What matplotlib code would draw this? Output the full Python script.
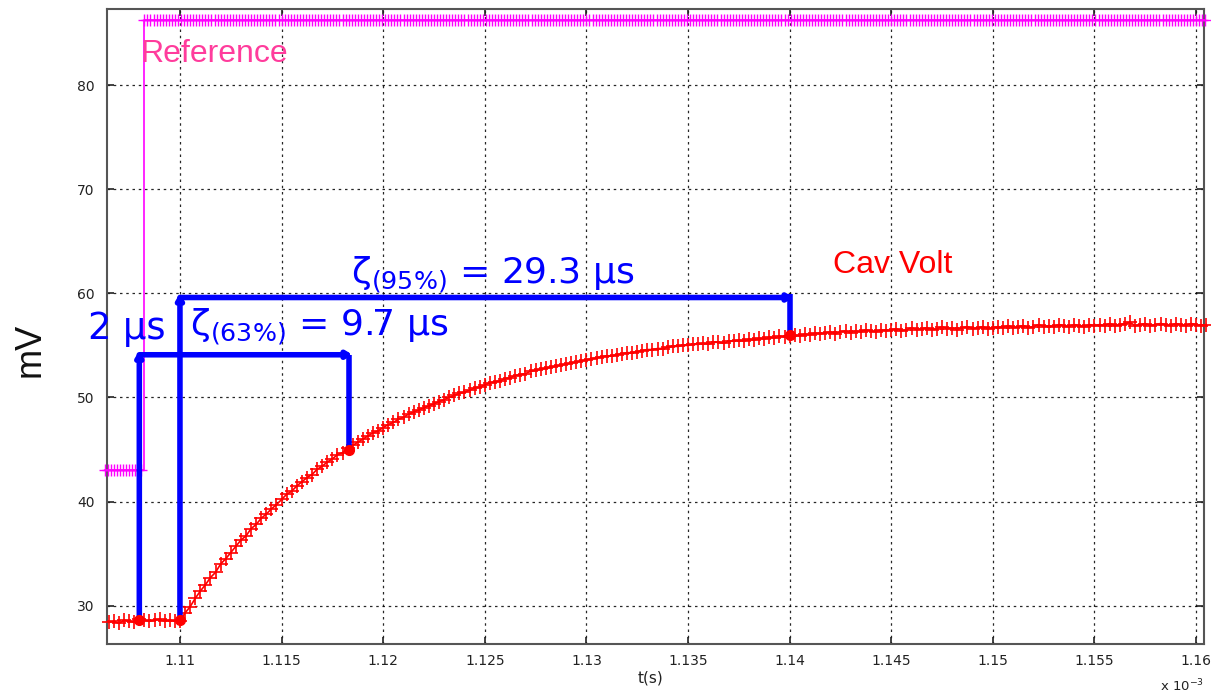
import numpy as np
import matplotlib
matplotlib.use("Agg")
import matplotlib.pyplot as plt

# ---------------- data ----------------
# Cavity voltage (mV), sampled every 0.25 us starting at t = 1.1065e-3 s
cav_t0 = 1.1065      # x axis in units of 1e-3 s
cav_dt = 0.00025
cav_volt = [
    28.4, 28.5, 28.3, 28.6, 28.5, 28.4, 28.7, 28.6, 28.5, 28.6, 28.7, 28.5, 28.6, 28.5,
    28.5, 29.3, 29.9, 30.7, 31.4, 32.0, 32.7, 33.2, 34.0, 34.5,
    35.1, 35.7, 36.3, 36.7, 37.4, 37.8, 38.4, 38.8, 39.3, 39.7,
    40.2, 40.7, 41.0, 41.5, 41.9, 42.3, 42.6, 43.1, 43.4, 43.8,
    44.1, 44.5, 44.7, 45.1, 45.4, 45.7, 46.0, 46.3, 46.6, 46.8,
    47.1, 47.4, 47.6, 47.9, 48.1, 48.4, 48.6, 48.8, 49.0, 49.2,
    49.4, 49.6, 49.8, 50.0, 50.2, 50.4, 50.5, 50.7, 50.9, 51.0,
    51.2, 51.4, 51.5, 51.6, 51.8, 51.9, 52.1, 52.2, 52.3, 52.5,
    52.6, 52.7, 52.8, 52.9, 53.0, 53.1, 53.2, 53.3, 53.4, 53.5,
    53.6, 53.7, 53.8, 53.9, 54.0, 54.0, 54.1, 54.2, 54.3, 54.3,
    54.4, 54.5, 54.6, 54.6, 54.7, 54.7, 54.8, 54.9, 54.9, 55.0,
    55.0,
    55.1, 55.1, 55.2, 55.1, 55.3, 55.3, 55.2, 55.4, 55.4, 55.5,
    55.4, 55.6, 55.5, 55.7, 55.6, 55.8, 55.7, 55.9, 55.8, 55.9,
    56.0, 55.9, 56.1, 56.0, 56.2, 56.1, 56.2, 56.3, 56.1, 56.3,
    56.4, 56.2, 56.4, 56.3, 56.5, 56.4, 56.3, 56.5, 56.4, 56.5,
    56.6, 56.4, 56.5, 56.7, 56.5, 56.6, 56.7, 56.5, 56.6, 56.8,
    56.6, 56.7, 56.5, 56.7, 56.8, 56.6, 56.7, 56.8, 56.6, 56.7,
    56.8, 56.7, 56.9, 56.7, 56.8, 56.9, 56.7, 56.8, 57.0, 56.8,
    56.9, 56.8, 57.0, 56.9, 56.8, 57.0, 56.9, 56.8, 57.0, 56.9,
    57.0, 56.9, 57.1, 56.9, 57.0, 57.1, 57.2, 56.9, 57.0, 57.1,
    56.9, 57.0, 57.1, 57.0, 56.9, 57.1, 57.0, 56.9, 57.1, 57.0,
    56.9, 57.0,
]
# Reference step (mV)
ref_t0 = 1.1063
ref_dt = 0.00015
ref_n = 362
ref_step_time = 1.10825
ref_low = 43.0
ref_high = 86.25

# Annotation points (t in 1e-3 s, mV)
delay_t = [1.1080, 1.1100]
base_v = 28.6
tau63_t, tau63_v = 1.1183, 45.0
tau95_t, tau95_v = 1.1400, 56.0
level63 = 54.1
level95 = 59.6

xticks = [1.11, 1.115, 1.12, 1.125, 1.13, 1.135, 1.14, 1.145, 1.15, 1.155, 1.16]
yticks = [30, 40, 50, 60, 70, 80]

# ---------------- figure ----------------
fig = plt.figure(figsize=(12.11, 6.93), dpi=100)
ax = fig.add_axes([107/1211, 1-644/693, (1204-107)/1211, (644-9)/693])

ax.set_xlim(1.10641, 1.16039)
ax.set_ylim(26.32, 87.31)

cav_time = cav_t0 + cav_dt*np.arange(len(cav_volt))
ref_time = ref_t0 + ref_dt*np.arange(ref_n)
ref_vals = np.where(ref_time < ref_step_time, ref_low, ref_high)

# Reference trace
ax.plot(ref_time, ref_vals, color='#ff00ff', lw=1.2, marker='+', ms=9, mew=1.0,
        drawstyle='steps-post', clip_on=False, zorder=3)
# Cavity voltage trace
ax.plot(cav_time, cav_volt, color='#ff0000', lw=1.2, marker='+', ms=10, mew=1.2,
        clip_on=False, zorder=4)

blue = '#0000ff'
lwb = 4.0
def arrow(x0, y0, x1, y1):
    ax.annotate('', xy=(x1, y1), xytext=(x0, y0),
                arrowprops=dict(arrowstyle='-|>,head_length=0.3,head_width=0.18',
                                color=blue, lw=lwb, shrinkA=0, shrinkB=0), zorder=5)

# delay verticals
arrow(delay_t[0], base_v, delay_t[0], level63 + 0.4)
arrow(delay_t[1], base_v, delay_t[1], level95 + 0.4)
# 63% bracket
arrow(delay_t[0], level63, tau63_t + 0.0002, level63)
ax.plot([tau63_t, tau63_t], [level63, tau63_v], color=blue, lw=lwb, zorder=5, solid_capstyle='butt')
# 95% bracket
arrow(delay_t[1], level95, tau95_t + 0.0002, level95)
ax.plot([tau95_t, tau95_t], [level95 + 0.3, tau95_v], color=blue, lw=lwb, zorder=5, solid_capstyle='butt')

# red dots
ax.plot([delay_t[0], delay_t[1], tau63_t, tau95_t], [base_v, base_v, tau63_v, tau95_v],
        'o', color='#ff0000', ms=7, zorder=6)

# texts
ax.text(1.10548, 54.8, '2 μs', color=blue, fontsize=26.5, family='DejaVu Sans',
        ha='left', va='bottom', zorder=7, clip_on=False)
ax.text(1.1105, 54.8, 'ζ' + r'$_{(63\%)}$' + ' = 9.7 μs', color=blue, fontsize=26,
        family='DejaVu Sans', ha='left', va='bottom', zorder=7)
ax.text(1.1184, 59.8, 'ζ' + r'$_{(95\%)}$' + ' = 29.3 μs', color=blue, fontsize=26,
        family='DejaVu Sans', ha='left', va='bottom', zorder=7)
ax.text(1.10805, 82.2, 'Reference', color='#ff3c9c', fontsize=23, family='Liberation Sans',
        ha='left', va='baseline', zorder=7)
ax.text(1.14214, 61.92, 'Cav Volt', color='#ff0000', fontsize=23, family='Liberation Sans',
        ha='left', va='baseline', zorder=7)

# axes styling (MATLAB-like)
ax.set_xticks(xticks)
ax.set_xticklabels(['%g' % v for v in xticks])
ax.set_yticks(yticks)
ax.tick_params(direction='in', length=5, width=1.2, top=True, right=True,
               labelsize=10, labelcolor='#222222', color='#222222', pad=7)
ax.tick_params(axis='y', pad=9)
for lab in ax.get_xticklabels() + ax.get_yticklabels():
    lab.set_family('DejaVu Sans')
for s in ax.spines.values():
    s.set_color('#555555')
    s.set_linewidth(1.5)
ax.grid(True, color='black', linestyle=(0, (2, 3)), lw=0.9, alpha=0.85)
ax.set_axisbelow(True)

fig.text(30/1211, 1-350/693, 'mV', rotation=90, fontsize=26, family='Liberation Sans',
         ha='center', va='center', color='#111111')
fig.text(650/1211, 1-678/693, 't(s)', fontsize=11, family='DejaVu Sans',
         ha='center', va='center', color='#222222')
fig.text(1160/1211, 1-686/693, r'x 10$^{-3}$', fontsize=9.5, family='DejaVu Sans',
         ha='left', va='center', color='#222222')

fig.savefig('out.png', dpi=100)
